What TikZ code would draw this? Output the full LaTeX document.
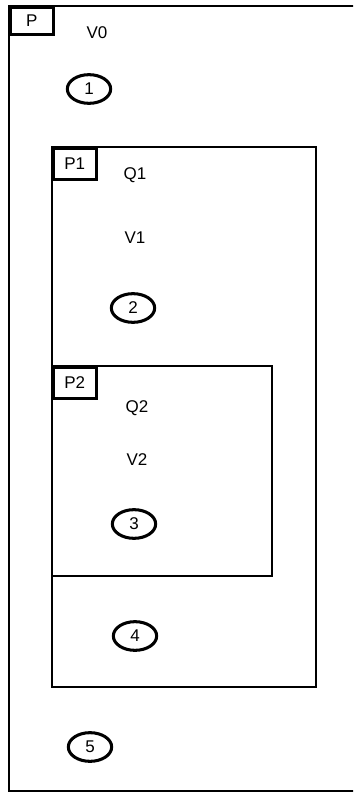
\documentclass[tikz,border=0pt]{standalone}
\usepackage{fontspec}
\setmainfont{Liberation Sans}
\usetikzlibrary{shapes.geometric}

\begin{document}
\begin{tikzpicture}[x=0.03cm,y=-0.03cm,
  box/.style={line width=2.2pt},
  tag/.style={draw,line width=2.2pt,anchor=north west,inner sep=0pt,font=\fontsize{14.5}{16}\selectfont},
  txt/.style={font=\fontsize{14.5}{16}\selectfont,inner sep=1pt},
  num/.style={draw,ellipse,line width=2.6pt,minimum width=1.3cm,minimum height=0.86cm,inner sep=0pt,font=\fontsize{14.5}{16}\selectfont}]
\useasboundingbox (0,0) rectangle (353,794);
\clip (0,0) rectangle (353,794);
\draw[box] (370,6) -| (9,791) -- (370,791);
\node[tag,minimum width=1.29cm,minimum height=0.81cm] (tagP) at (9,6) {P};
\node[txt] (v0) at (97,33) {V0};
\node[num] (n1) at (89,89) {1};
\draw[box] (52,147) rectangle (316,687);
\node[tag,minimum width=1.29cm,minimum height=0.93cm] (tagP1) at (52,147) {P1};
\node[txt] (q1) at (135,175) {Q1};
\node[txt] (v1) at (135,238) {V1};
\node[num] (n2) at (133,308) {2};
\draw[box] (52,366) rectangle (272,576);
\node[tag,minimum width=1.29cm,minimum height=0.93cm] (tagP2) at (52,366) {P2};
\node[txt] (q2) at (137,408) {Q2};
\node[txt] (v2) at (137,460) {V2};
\node[num] (n3) at (134,524) {3};
\node[num] (n4) at (135,636) {4};
\node[num] (n5) at (90,747) {5};
\end{tikzpicture}
\end{document}
